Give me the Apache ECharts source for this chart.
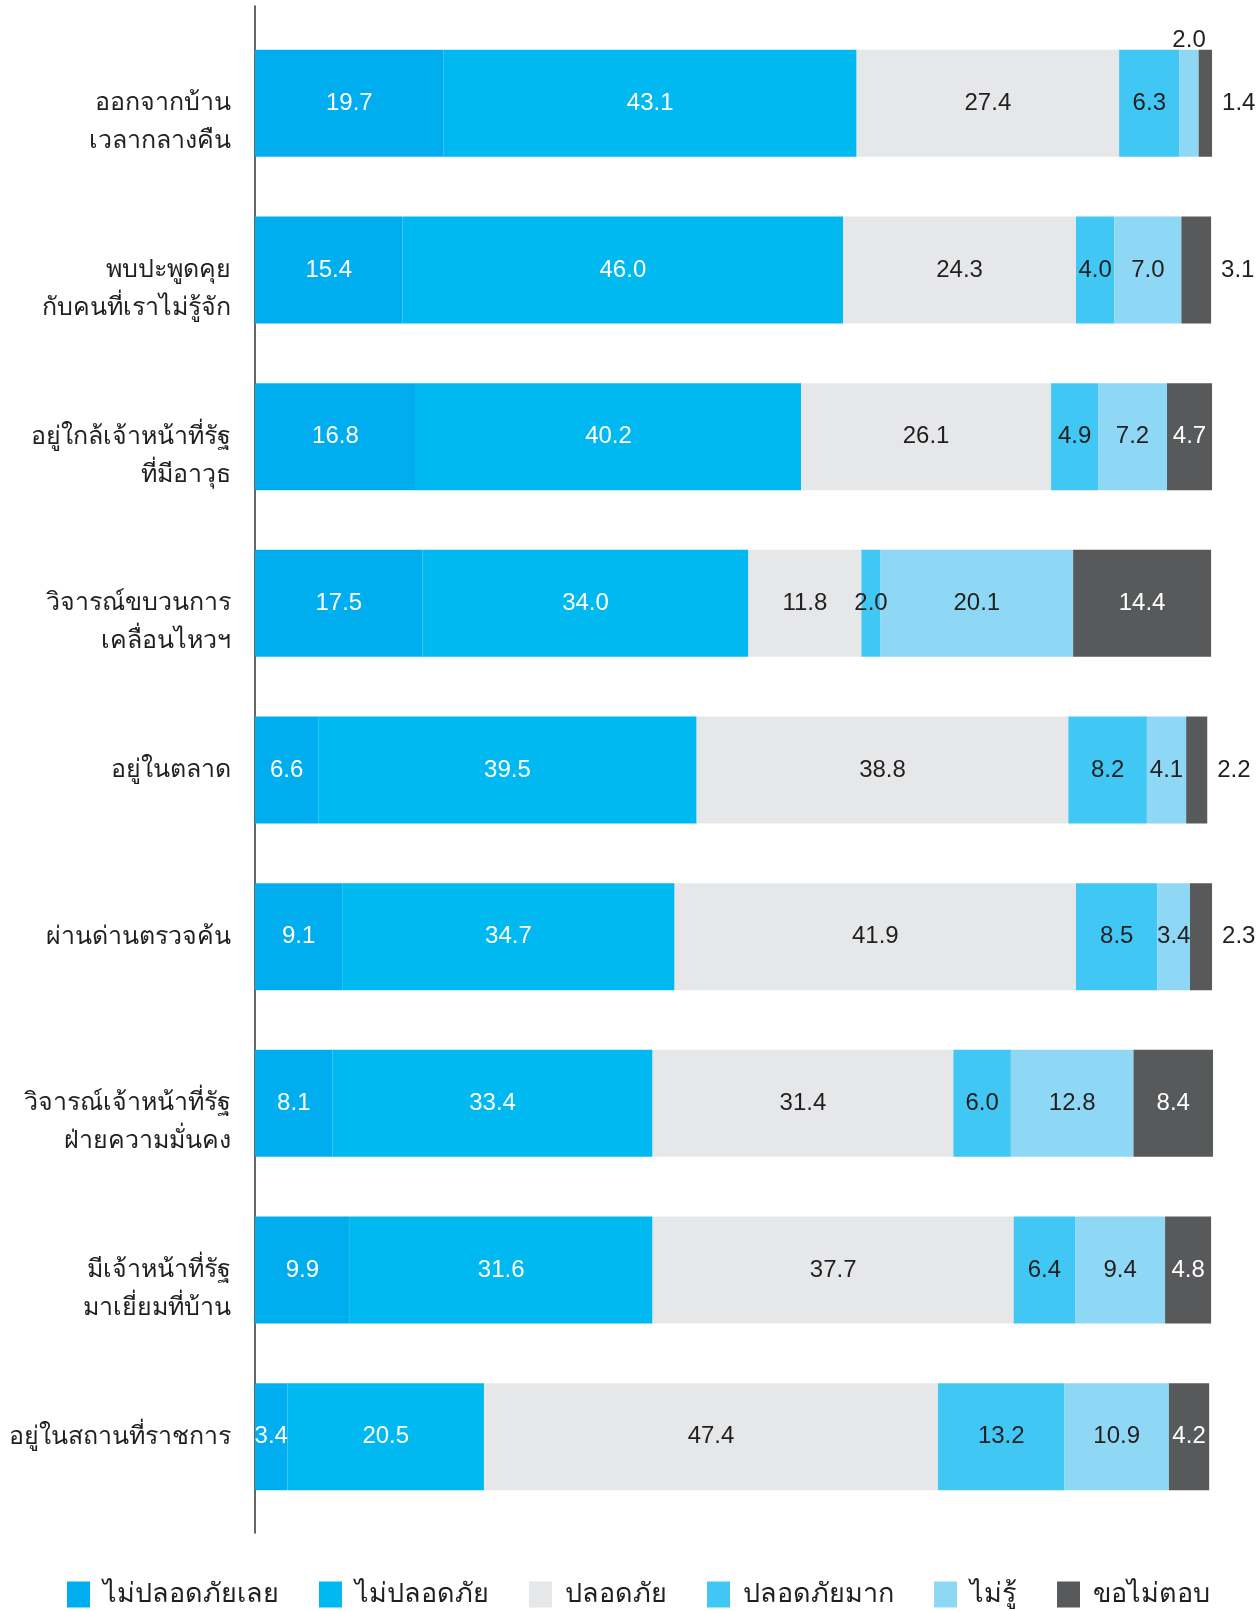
<!DOCTYPE html>
<html>
<head>
<meta charset="utf-8">
<script src="https://cdn.jsdelivr.net/npm/echarts@6/dist/echarts.min.js"></script>
<style>
  html, body { margin: 0; padding: 0; background: #fff; }
  #chart { width: 1260px; height: 1611px; }
</style>
</head>
<body>
<div id="chart"></div>
<script>
// หมวดหมู่ (บนลงล่าง)
const categories = [
  'ออกจากบ้าน\nเวลากลางคืน',
  'พบปะพูดคุย\nกับคนที่เราไม่รู้จัก',
  'อยู่ใกล้เจ้าหน้าที่รัฐ\nที่มีอาวุธ',
  'วิจารณ์ขบวนการ\nเคลื่อนไหวฯ',
  'อยู่ในตลาด',
  'ผ่านด่านตรวจค้น',
  'วิจารณ์เจ้าหน้าที่รัฐ\nฝ่ายความมั่นคง',
  'มีเจ้าหน้าที่รัฐ\nมาเยี่ยมที่บ้าน',
  'อยู่ในสถานที่ราชการ'
];

const seriesNames = ['ไม่ปลอดภัยเลย', 'ไม่ปลอดภัย', 'ปลอดภัย', 'ปลอดภัยมาก', 'ไม่รู้', 'ขอไม่ตอบ'];

const notSafeAtAll = [19.7, 15.4, 16.8, 17.5, 6.6, 9.1, 8.1, 9.9, 3.4];
const notSafe      = [43.1, 46.0, 40.2, 34.0, 39.5, 34.7, 33.4, 31.6, 20.5];
const safe         = [27.4, 24.3, 26.1, 11.8, 38.8, 41.9, 31.4, 37.7, 47.4];
const verySafe     = [6.3, 4.0, 4.9, 2.0, 8.2, 8.5, 6.0, 6.4, 13.2];
const dontKnow     = [2.0, 7.0, 7.2, 20.1, 4.1, 3.4, 12.8, 9.4, 10.9];
const noAnswer     = [1.4, 3.1, 4.7, 14.4, 2.2, 2.3, 8.4, 4.8, 4.2];

const values = [notSafeAtAll, notSafe, safe, verySafe, dontKnow, noAnswer];
const colors = ['#00aeef', '#00b9f1', '#e6e7e8', '#40c7f4', '#8fd8f5', '#58595b'];
const labelColors = ['#ffffff', '#ffffff', '#231f20', '#231f20', '#231f20', '#ffffff'];

const DARK = '#231f20';
const NUM_FONT = '"Liberation Sans", Arial, sans-serif';
const THAI_FONT = '"Noto Sans", "DejaVu Sans", sans-serif';

const chart = echarts.init(document.getElementById('chart'));

const series = values.map((arr, si) => ({
  name: seriesNames[si],
  type: 'bar',
  stack: 'total',
  barWidth: 107,
  xAxisIndex: 0,
  yAxisIndex: 0,
  itemStyle: { color: colors[si] },
  label: {
    show: true,
    position: 'inside',
    color: labelColors[si],
    fontFamily: NUM_FONT,
    fontSize: 24,
    formatter: (p) => p.value.toFixed(1)
  },
  data: arr.map((v) => {
    // ค่าเล็ก ๆ วางไว้นอกแท่ง
    if (si === 5 && v < 4) {
      return { value: v, label: { position: 'right', distance: 10, color: DARK } };
    }
    if (si === 4 && v < 3) {
      return { value: v, label: { position: 'top', distance: -3, color: DARK } };
    }
    return v;
  })
}));

const option = {
  animation: false,
  backgroundColor: '#fff',
  color: colors,
  legend: {
    data: seriesNames,
    left: 62,
    top: 1576,
    itemWidth: 23,
    itemHeight: 26,
    itemGap: 40,
    icon: 'rect',
    textStyle: { fontFamily: THAI_FONT, fontSize: 27, color: DARK, padding: [0, 0, 0, 8] }
  },
  grid: [
    { left: 255, top: 20, width: 958, height: 1500, outerBoundsMode: 'none' },
    { left: 255, top: 6, width: 958, height: 1527, outerBoundsMode: 'none' }
  ],
  xAxis: [
    { type: 'value', gridIndex: 0, min: 0, max: 100, show: false },
    { type: 'value', gridIndex: 1, min: 0, max: 1, show: false }
  ],
  yAxis: [
    {
      type: 'category',
      gridIndex: 0,
      inverse: true,
      data: categories,
      axisLine: { show: false },
      axisTick: { show: false },
      axisLabel: {
        margin: 24,
        fontFamily: THAI_FONT,
        fontSize: 25,
        lineHeight: 38,
        color: DARK,
        align: 'right',
        // ป้ายสองบรรทัด: บรรทัดแรกอยู่ระดับกลางแท่ง
        formatter: (v) => (v.indexOf('\n') >= 0 ? ' \n' + v : v)
      }
    },
    {
      type: 'value',
      gridIndex: 1,
      min: 0,
      max: 1,
      axisLine: { show: true, onZero: false, lineStyle: { color: '#333', width: 1.5 } },
      axisTick: { show: false },
      axisLabel: { show: false },
      splitLine: { show: false }
    }
  ],
  series: series
};

chart.setOption(option);
</script>
</body>
</html>
